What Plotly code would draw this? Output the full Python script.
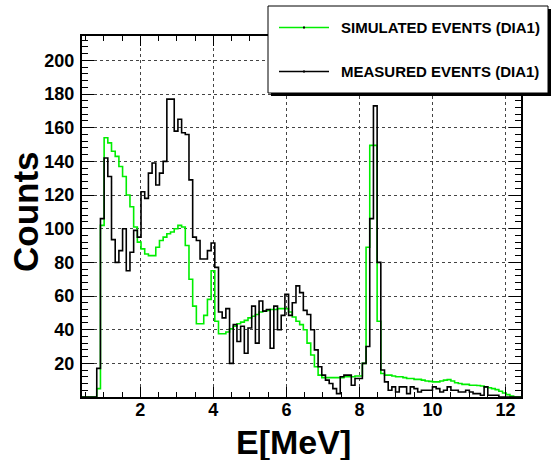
import numpy as np
import plotly.graph_objects as go

# Energy spectrum, DIA1 detector: histograms with 0.101 MeV bins starting at 0.404 MeV
BIN_WIDTH = 0.101
FIRST_EDGE = 0.404

measured_counts = [
    0, 0, 0, 0, 17, 106, 142, 131, 93.5, 80,
    87, 100, 75, 86, 99, 95, 122, 118, 133, 139,
    126, 133, 140, 177, 177, 158, 165, 157, 156, 129,
    95, 93, 82, 82, 87, 91.5, 77, 50.5, 47, 52.5,
    20, 43, 33, 42, 26, 41, 54, 32, 57, 51,
    52, 29, 54, 40, 48.5, 61, 48.5, 56, 66, 62,
    51.5, 49, 40, 28, 18, 13, 10, 8, 5, 2,
    12, 13, 13, 7, 11, 11, 20, 30, 106, 173,
    80, 16, 9, 4, 6, 3, 6, 6, 2, 6,
    5, 3, 4, 4, 4, 6, 5, 3, 4, 6,
    4, 4, 3, 3, 4, 3, 2, 2, 1, 6,
    1, 1, 1, 0, 0, 0, 0, 0, 0,
]

simulated_counts = [
    0, 0, 0, 0, 5, 102, 154, 151, 146, 143,
    137, 131, 120, 113, 101, 92, 88, 85, 84, 84,
    89, 93, 95, 97, 98, 100, 102, 101, 90, 70,
    54, 43.5, 43.5, 48.5, 58, 75, 45, 37.6, 37.6, 38.6,
    40.5, 42, 43.5, 44.5, 45.5, 47, 48, 49, 50.5, 51,
    51.5, 52, 52, 52.5, 52.5, 52.5, 50.5, 47.5, 45, 43,
    40, 32, 25, 18, 13, 11.5, 11.5, 11.5, 11.5, 11.5,
    11.5, 12, 12, 12, 12.5, 12.5, 20, 89, 149.5, 149.5,
    45, 14, 13, 13, 12.5, 12, 12, 11.5, 11, 11,
    10.5, 10.5, 10, 9.5, 9.3, 9, 9, 9.5, 10, 10.3,
    9.5, 8.5, 8, 7.5, 7.5, 7, 7, 6.8, 6.5, 6,
    5.5, 5, 4.4, 3.4, 2.4, 1.4, 0.5, 0, 0,
]

SIM_NAME = "SIMULATED EVENTS (DIA1)"
MEAS_NAME = "MEASURED EVENTS (DIA1)"
X_TITLE = "E[MeV]"
Y_TITLE = "Counts"

X_RANGE = [0.404, 12.423]
Y_RANGE = [0, 214.5]

WIDTH, HEIGHT = 551, 460
M_L, M_R, M_T, M_B = 82, 30, 36, 63
PLOT_W = WIDTH - M_L - M_R
PLOT_H = HEIGHT - M_T - M_B

GREEN = "#00ee00"
FONT = "Liberation Sans, Arial, sans-serif"


def step_xy(values):
    edges = FIRST_EDGE + BIN_WIDTH * np.arange(len(values) + 1)
    ys = list(values) + [values[-1]]
    return edges, ys


def px(x):
    return (x - M_L) / PLOT_W


def py(y):
    return (HEIGHT - M_B - y) / PLOT_H


fig = go.Figure()

for vals, color, name in [
    (simulated_counts, GREEN, SIM_NAME),
    (measured_counts, "black", MEAS_NAME),
]:
    xs, ys = step_xy(vals)
    fig.add_trace(go.Scatter(
        x=xs, y=ys, mode="lines", name=name,
        line=dict(color=color, width=1.6, shape="hv"),
        showlegend=False, hoverinfo="skip",
    ))

axis_common = dict(
    showline=True, linecolor="black", linewidth=2, mirror="allticks",
    ticks="inside", tickcolor="black", tickwidth=1.2,
    showgrid=True, gridcolor="#444444", gridwidth=1, griddash="dot",
    zeroline=False,
    tickfont=dict(family=FONT, size=18, color="black", weight="bold"),
)

fig.update_xaxes(
    range=X_RANGE, tick0=0, dtick=2, ticklen=10,
    minor=dict(ticks="inside", ticklen=5, dtick=0.5, tick0=0, tickcolor="black", showgrid=False),
    ticklabelstandoff=-5,
    **axis_common,
)
fig.update_yaxes(
    range=Y_RANGE, tickvals=list(range(20, 201, 20)), ticklen=12,
    minor=dict(ticks="inside", ticklen=6, dtick=4, tick0=0, tickcolor="black", showgrid=False),
    ticklabelstandoff=2,
    **axis_common,
)

# Legend box with drop shadow
shapes = [
    dict(type="rect", xref="paper", yref="paper", layer="above",
         x0=px(271), x1=px(551), y0=py(96), y1=py(9),
         fillcolor="black", line=dict(width=0)),
    dict(type="rect", xref="paper", yref="paper", layer="above",
         x0=px(268), x1=px(548), y0=py(93), y1=py(6),
         fillcolor="white", line=dict(color="black", width=1)),
]
annotations = []
for yc, color, name in [(27.5, GREEN, SIM_NAME), (71.5, "black", MEAS_NAME)]:
    shapes.append(dict(type="line", xref="paper", yref="paper", layer="above",
                       x0=px(279), x1=px(329), y0=py(yc), y1=py(yc),
                       line=dict(color=color, width=1.6)))
    shapes.append(dict(type="rect", xref="paper", yref="paper", layer="above",
                       x0=px(303), x1=px(305), y0=py(yc + 1), y1=py(yc - 1),
                       fillcolor="black", line=dict(width=0)))
    annotations.append(dict(
        xref="paper", yref="paper", x=px(339), y=py(yc),
        xanchor="left", yanchor="middle", showarrow=False, text=f"<b>{name}</b>",
        font=dict(family=FONT, size=15, color="black"),
    ))

annotations.append(dict(
    xref="paper", yref="paper", x=px(25), y=py(211), textangle=-90,
    xanchor="center", yanchor="middle", showarrow=False, text=f"<b>{Y_TITLE}</b>",
    font=dict(family=FONT, size=35, color="black"),
))
annotations.append(dict(
    xref="paper", yref="paper", x=px(293), y=py(442),
    xanchor="center", yanchor="middle", showarrow=False, text=f"<b>{X_TITLE}</b>",
    font=dict(family=FONT, size=34, color="black"),
))

fig.update_layout(
    width=WIDTH, height=HEIGHT,
    margin=dict(l=M_L, r=M_R, t=M_T, b=M_B),
    paper_bgcolor="white", plot_bgcolor="white",
    shapes=shapes, annotations=annotations,
    showlegend=False,
)

fig.write_html("out.html")
